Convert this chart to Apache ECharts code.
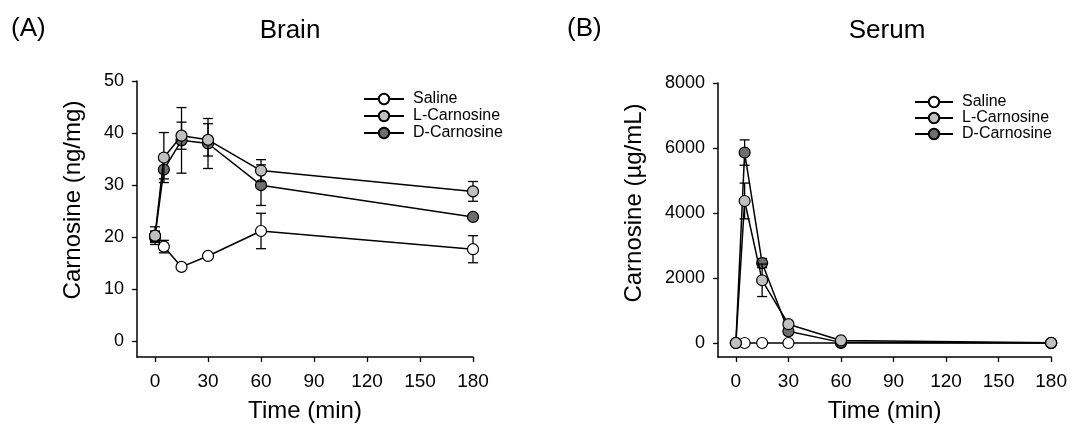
<!DOCTYPE html>
<html>
<head>
<meta charset="utf-8">
<script src="https://cdn.jsdelivr.net/npm/echarts@6/dist/echarts.min.js"></script>
<style>
html,body{margin:0;padding:0;background:#fff;}
#c{width:1070px;height:428px;}
</style>
</head>
<body>
<div id="c"></div>
<script>
// ---- data ----
const times = [0, 5, 15, 30, 60, 180];
const seriesNames = ['Saline', 'L-Carnosine', 'D-Carnosine'];
const xTicks = [0, 30, 60, 90, 120, 150, 180];
const brainTicks = [0, 10, 20, 30, 40, 50];
const serumTicks = [0, 2000, 4000, 6000, 8000];

// Brain (ng/mg)
const brainSaline = [20.0, 18.2, 14.3, 16.4, 21.2, 17.7];
const brainSalineErr = [1.0, 1.2, 0.4, 0.4, 3.4, 2.6];
const brainL = [20.3, 35.3, 39.5, 38.7, 32.8, 28.8];
const brainLErr = [1.7, 4.8, 2.6, 3.1, 2.1, 1.9];
const brainD = [20.2, 33.0, 38.6, 38.0, 30.0, 23.9];
const brainDErr = [1.0, 1.8, 6.3, 4.8, 3.9, 0.5];

// Serum (µg/mL)
const serumSaline = [0, 0, 0, 0, 0, 0];
const serumSalineErr = [0, 0, 0, 0, 0, 0];
const serumL = [0, 4370, 1930, 580, 80, 5];
const serumLErr = [0, 550, 500, 60, 20, 0];
const serumD = [0, 5860, 2460, 360, 20, 0];
const serumDErr = [0, 390, 140, 50, 10, 0];

const FILL = {'Saline': '#ffffff', 'L-Carnosine': '#c0c0c0', 'D-Carnosine': '#6e6e6e'};
const FONT = 'Liberation Sans, Arial, sans-serif';

function pts(vals) { return times.map((t, i) => [t, vals[i]]); }
function errPts(vals, errs) { return times.map((t, i) => [t, vals[i] - errs[i], vals[i] + errs[i]]); }

function errSeries(name, gi, vals, errs, z) {
  return {
    type: 'custom', name: name + ' err' + gi, xAxisIndex: gi, yAxisIndex: gi, z: z,
    silent: true,
    data: errPts(vals, errs),
    renderItem: function (params, api) {
      const x = api.value(0);
      const lo = api.coord([x, api.value(1)]);
      const hi = api.coord([x, api.value(2)]);
      if (Math.abs(hi[1] - lo[1]) < 1) return null;
      const w = 5;
      const st = {stroke: '#000', lineWidth: 1.3};
      return {type: 'group', children: [
        {type: 'line', shape: {x1: lo[0], y1: lo[1], x2: hi[0], y2: hi[1]}, style: st},
        {type: 'line', shape: {x1: lo[0] - w, y1: lo[1], x2: lo[0] + w, y2: lo[1]}, style: st},
        {type: 'line', shape: {x1: hi[0] - w, y1: hi[1], x2: hi[0] + w, y2: hi[1]}, style: st}
      ]};
    }
  };
}

function lineSeries(name, gi, vals, z) {
  return {
    type: 'line', name: name, xAxisIndex: gi, yAxisIndex: gi, z: z,
    data: pts(vals),
    symbol: 'circle', symbolSize: 11,
    lineStyle: {color: '#000', width: 1.5},
    itemStyle: {color: FILL[name], borderColor: '#000', borderWidth: 1.2},
    emphasis: {disabled: true},
    animation: false
  };
}

function xAxisDef(gi) {
  return {
    type: 'value', gridIndex: gi, min: -10.2, max: 180,
    name: 'Time (min)', nameLocation: 'middle', nameGap: 42,
    nameTextStyle: {fontFamily: FONT, fontSize: 24, color: '#000'},
    splitLine: {show: false},
    axisLine: {onZero: false, lineStyle: {color: '#000', width: 1.5}},
    axisTick: {show: true, length: 5, lineStyle: {color: '#000', width: 1.3}, customValues: xTicks},
    axisLabel: {fontFamily: FONT, fontSize: 19, color: '#000', margin: 15, customValues: xTicks}
  };
}

function yAxisDef(gi, min, max, ticks, name, gap, shift) {
  return {
    type: 'value', gridIndex: gi, min: min, max: max,
    name: name, nameLocation: 'middle', nameGap: gap, nameRotate: 90,
    nameTextStyle: {fontFamily: FONT, fontSize: 24, color: '#000', padding: [0, 0, 0, shift]},
    splitLine: {show: false},
    axisLine: {show: true, onZero: false, lineStyle: {color: '#000', width: 1.5}},
    axisTick: {show: true, length: 5, lineStyle: {color: '#000', width: 1.3}, customValues: ticks},
    axisLabel: {fontFamily: FONT, fontSize: 18, color: '#000', margin: 13, customValues: ticks,
                formatter: function (v) { return String(v); }}
  };
}

const legendText = {fontFamily: FONT, fontSize: 16, color: '#000', lineHeight: 13, padding: [0, 0, 0, 4]};

const chart = echarts.init(document.getElementById('c'));
chart.setOption({
  animation: false,
  backgroundColor: '#fff',
  title: [
    {text: '(A)', left: 11, top: 16, padding: 0, textStyle: {fontFamily: FONT, fontSize: 26, fontWeight: 'normal', color: '#000'}},
    {text: 'Brain', left: 290, textAlign: 'center', top: 18, padding: 0, textStyle: {fontFamily: FONT, fontSize: 26, fontWeight: 'normal', color: '#000'}},
    {text: '(B)', left: 567, top: 16, padding: 0, textStyle: {fontFamily: FONT, fontSize: 26, fontWeight: 'normal', color: '#000'}},
    {text: 'Serum', left: 887, textAlign: 'center', top: 18, padding: 0, textStyle: {fontFamily: FONT, fontSize: 26, fontWeight: 'normal', color: '#000'}}
  ],
  legend: [
    {data: seriesNames, orient: 'vertical', left: 363, top: 91, itemWidth: 40, itemHeight: 13, itemGap: 1, padding: 0,
     textStyle: legendText, selectedMode: false},
    {data: seriesNames, orient: 'vertical', left: 914, top: 94, itemWidth: 38, itemHeight: 13, itemGap: 0, padding: 0,
     textStyle: legendText, selectedMode: false}
  ],
  grid: [
    {left: 137, top: 81, width: 336, height: 277},
    {left: 718, top: 83, width: 336, height: 276}
  ],
  xAxis: [xAxisDef(0), xAxisDef(1)],
  yAxis: [
    yAxisDef(0, -3, 50, brainTicks, 'Carnosine (ng/mg)', 52, 38),
    yAxisDef(1, -430, 8000, serumTicks, 'Carnosine (µg/mL)', 72, 34)
  ],
  series: [
    errSeries('Saline', 0, brainSaline, brainSalineErr, 1),
    lineSeries('Saline', 0, brainSaline, 2),
    errSeries('D-Carnosine', 0, brainD, brainDErr, 3),
    lineSeries('D-Carnosine', 0, brainD, 4),
    errSeries('L-Carnosine', 0, brainL, brainLErr, 5),
    lineSeries('L-Carnosine', 0, brainL, 6),
    errSeries('Saline', 1, serumSaline, serumSalineErr, 1),
    lineSeries('Saline', 1, serumSaline, 2),
    errSeries('D-Carnosine', 1, serumD, serumDErr, 3),
    lineSeries('D-Carnosine', 1, serumD, 4),
    errSeries('L-Carnosine', 1, serumL, serumLErr, 5),
    lineSeries('L-Carnosine', 1, serumL, 6)
  ]
});
</script>
</body>
</html>
